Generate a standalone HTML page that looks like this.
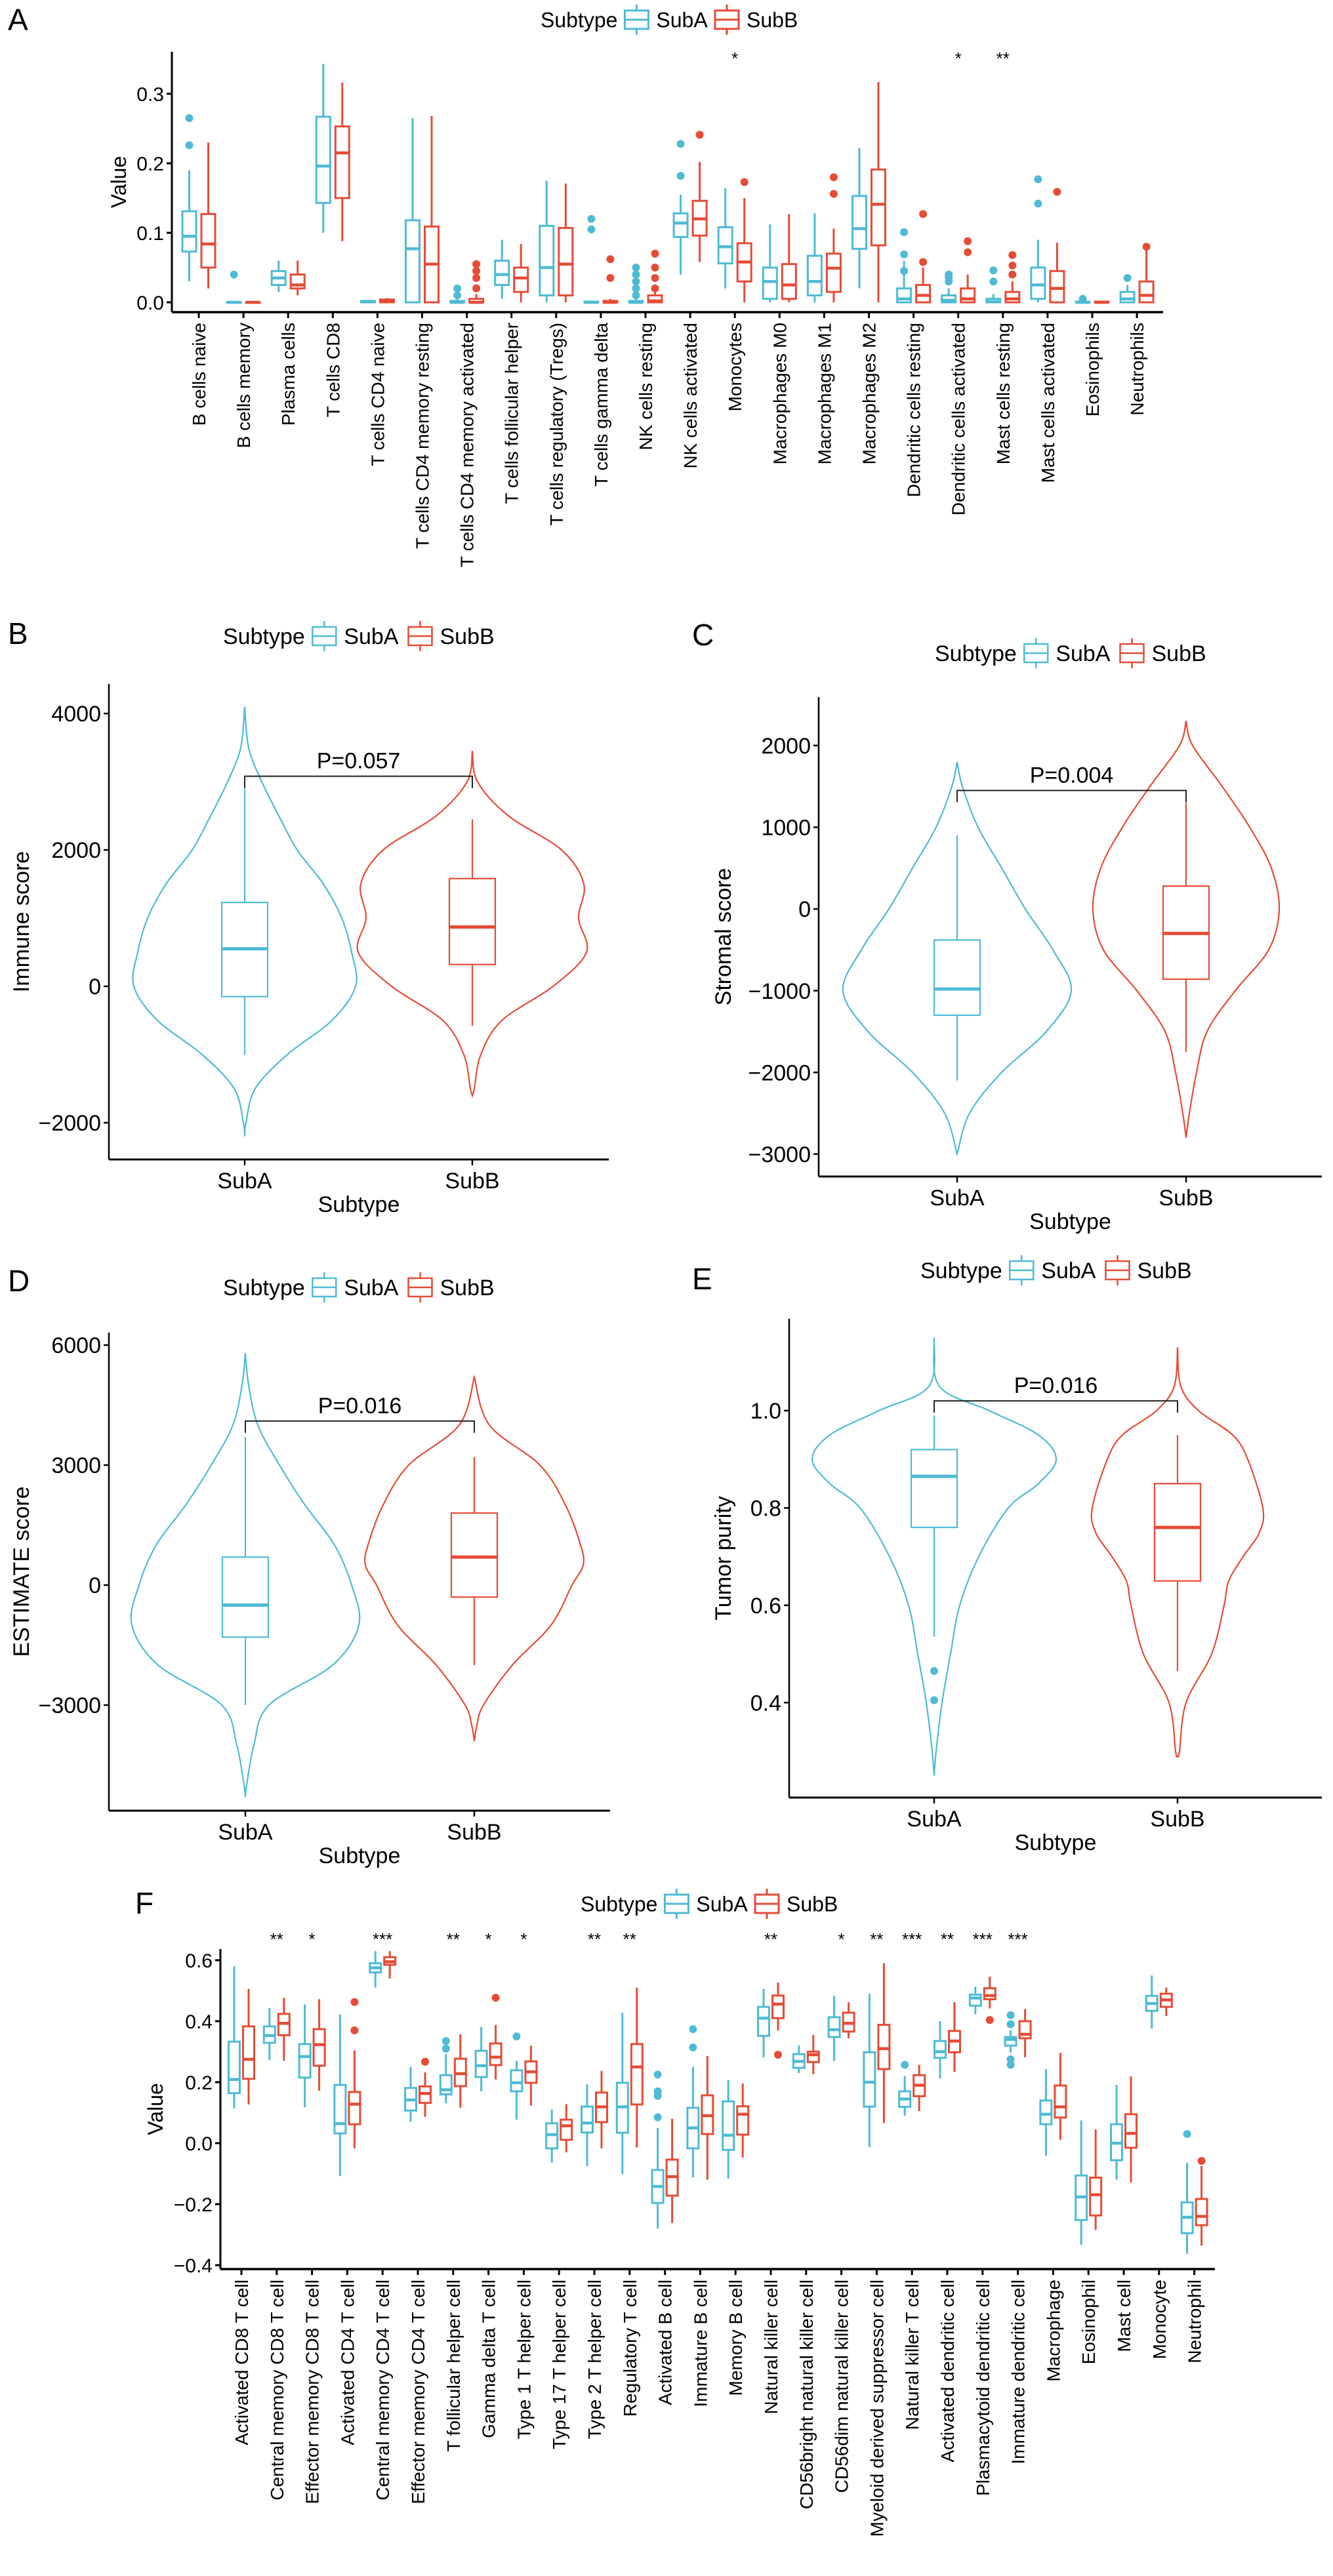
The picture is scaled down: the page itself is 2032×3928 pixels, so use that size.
<!DOCTYPE html>
<html><head><meta charset="utf-8"><style>
html,body{margin:0;padding:0;background:#fff;}
svg{display:block;font-family:"Liberation Sans",Arial,sans-serif;}
</style></head><body>
<svg id="fig" width="2032" height="3928" viewBox="0 0 2032 3928" xmlns="http://www.w3.org/2000/svg"></svg>
<script>
// ---------- Panel A data ----------
const aCategories = ["B cells naive","B cells memory","Plasma cells","T cells CD8","T cells CD4 naive","T cells CD4 memory resting","T cells CD4 memory activated","T cells follicular helper","T cells regulatory (Tregs)","T cells gamma delta","NK cells resting","NK cells activated","Monocytes","Macrophages M0","Macrophages M1","Macrophages M2","Dendritic cells resting","Dendritic cells activated","Mast cells resting","Mast cells activated","Eosinophils","Neutrophils"];
const aSubA = [[0.03,0.073,0.095,0.131,0.19],[0,0,0,0,0],[0.015,0.025,0.035,0.045,0.06],[0.1,0.143,0.196,0.267,0.343],[0,0,0.001,0.002,0.003],[0,0,0.077,0.118,0.265],[0,0,0,0.002,0.005],[0.005,0.025,0.04,0.06,0.09],[0,0.01,0.05,0.11,0.175],[0,0,0,0.001,0.002],[0,0,0,0.002,0.005],[0.04,0.094,0.114,0.128,0.155],[0.02,0.056,0.08,0.108,0.164],[0,0.005,0.03,0.05,0.112],[0,0.01,0.03,0.067,0.128],[0.02,0.077,0.106,0.153,0.222],[0,0,0.005,0.02,0.06],[0,0,0.003,0.01,0.02],[0,0,0.001,0.005,0.012],[0,0.005,0.025,0.05,0.09],[0,0,0,0.001,0.002],[0,0,0.005,0.015,0.025]];
const aSubB = [[0.02,0.05,0.084,0.127,0.23],[0,0,0,0,0],[0.01,0.02,0.025,0.04,0.06],[0.088,0.15,0.215,0.253,0.316],[0,0,0.002,0.004,0.006],[0,0,0.055,0.109,0.268],[0,0,0,0.005,0.012],[0,0.015,0.035,0.05,0.084],[0,0.01,0.055,0.107,0.171],[0,0,0,0.002,0.005],[0,0,0.002,0.01,0.015],[0.058,0.096,0.12,0.146,0.202],[0,0.03,0.058,0.085,0.15],[0,0.005,0.025,0.055,0.127],[0,0.015,0.049,0.07,0.106],[0,0.082,0.141,0.191,0.317],[0,0,0.01,0.025,0.05],[0,0,0.005,0.02,0.04],[0,0,0.005,0.015,0.03],[0,0,0.02,0.045,0.086],[0,0,0,0.001,0.002],[0,0,0.01,0.03,0.075]];
const aOutA = [[0.226,0.265],[0.04],[],[],[],[],[0.01,0.02],[],[],[0.105,0.12],[0.01,0.02,0.03,0.04,0.05],[0.182,0.228],[],[],[],[],[0.045,0.069,0.101],[0.03,0.035,0.04],[0.03,0.046],[0.142,0.177],[0.005],[0.035]];
const aOutB = [[],[],[],[],[],[],[0.02,0.035,0.045,0.055],[],[],[0.035,0.062],[0.02,0.035,0.05,0.07],[0.241],[0.173],[],[0.156,0.18],[],[0.058,0.127],[0.072,0.088],[0.04,0.053,0.068],[0.159],[],[0.08]];
const aStars = ["","","","","","","","","","","","","*","","","","","*","**","","",""];
const aTicks = [0,0.1,0.2,0.3];
const aTickLabels = ["0.0","0.1","0.2","0.3"];

// ---------- Panel F data ----------
const fCategories = ["Activated CD8 T cell","Central memory CD8 T cell","Effector memory CD8 T cell","Activated CD4 T cell","Central memory CD4 T cell","Effector memory CD4 T cell","T follicular helper cell","Gamma delta T cell","Type 1 T helper cell","Type 17 T helper cell","Type 2 T helper cell","Regulatory T cell","Activated B cell","Immature B cell","Memory B cell","Natural killer cell","CD56bright natural killer cell","CD56dim natural killer cell","Myeloid derived suppressor cell","Natural killer T cell","Activated dendritic cell","Plasmacytoid dendritic cell","Immature dendritic cell","Macrophage","Eosinophil","Mast cell","Monocyte","Neutrophil"];
const fSubA = [[0.114,0.164,0.209,0.333,0.58],[0.272,0.329,0.353,0.383,0.443],[0.118,0.215,0.284,0.325,0.455],[-0.108,0.032,0.064,0.191,0.422],[0.51,0.56,0.575,0.59,0.63],[0.07,0.107,0.142,0.181,0.25],[0.131,0.16,0.175,0.223,0.292],[0.17,0.217,0.254,0.303,0.381],[0.077,0.17,0.198,0.239,0.27],[-0.064,-0.017,0.028,0.065,0.11],[-0.075,0.035,0.066,0.12,0.193],[-0.102,0.034,0.119,0.198,0.427],[-0.28,-0.196,-0.142,-0.088,0.05],[-0.113,-0.017,0.05,0.116,0.25],[-0.116,-0.022,0.026,0.137,0.207],[0.281,0.352,0.41,0.447,0.506],[0.23,0.247,0.268,0.292,0.32],[0.27,0.348,0.372,0.413,0.483],[-0.013,0.12,0.2,0.298,0.49],[0.09,0.119,0.145,0.17,0.22],[0.212,0.28,0.3,0.335,0.4],[0.423,0.451,0.476,0.487,0.513],[0.297,0.32,0.34,0.348,0.37],[-0.041,0.062,0.095,0.14,0.243],[-0.334,-0.252,-0.176,-0.106,0.075],[-0.12,-0.056,0.0,0.062,0.191],[0.376,0.434,0.458,0.483,0.55],[-0.363,-0.295,-0.243,-0.194,-0.064]];
const fSubB = [[0.127,0.211,0.275,0.383,0.506],[0.27,0.354,0.393,0.424,0.477],[0.172,0.254,0.323,0.374,0.472],[-0.017,0.062,0.128,0.168,0.304],[0.54,0.585,0.595,0.61,0.63],[0.086,0.132,0.163,0.186,0.232],[0.116,0.187,0.228,0.277,0.357],[0.209,0.256,0.282,0.327,0.388],[0.123,0.198,0.234,0.268,0.32],[-0.03,0.011,0.057,0.077,0.128],[-0.017,0.069,0.119,0.166,0.237],[-0.014,0.127,0.25,0.325,0.51],[-0.262,-0.172,-0.11,-0.054,0.08],[-0.12,0.03,0.09,0.157,0.286],[-0.047,0.028,0.095,0.121,0.196],[0.37,0.41,0.456,0.484,0.527],[0.226,0.266,0.29,0.3,0.355],[0.344,0.366,0.393,0.428,0.462],[0.066,0.243,0.31,0.388,0.59],[0.105,0.154,0.19,0.223,0.257],[0.234,0.298,0.335,0.368,0.462],[0.442,0.472,0.484,0.508,0.546],[0.282,0.344,0.357,0.4,0.44],[0.011,0.084,0.119,0.189,0.296],[-0.284,-0.237,-0.169,-0.113,0.045],[-0.129,-0.015,0.032,0.095,0.219],[0.417,0.447,0.47,0.49,0.51],[-0.336,-0.269,-0.24,-0.183,-0.075]];
const fOutA = [[],[],[],[],[],[],[0.31,0.335],[],[0.35],[],[],[],[0.085,0.155,0.17,0.225],[0.314,0.374],[],[],[],[],[],[0.257],[],[],[0.257,0.275,0.39,0.42],[],[],[],[],[0.03]];
const fOutB = [[],[],[],[0.37,0.463],[],[0.267],[],[0.477],[],[],[],[],[],[],[],[0.29],[],[],[],[],[],[0.404],[],[],[],[],[],[-0.058]];
const fStars = ["","**","*","","***","","**","*","*","","**","**","","","","**","","*","**","***","**","***","***","","","","",""];
const fTicks = [-0.4,-0.2,0,0.2,0.4,0.6];
const fTickLabels = ["\u22120.4","\u22120.2","0.0","0.2","0.4","0.6"];

// ---------- Panel B (Immune score) ----------
const bLevelsA = [4100,3500,3000,2500,2000,1500,1000,500,0,-500,-1000,-1500,-2000,-2200];
const bDensA = [0,6,26,52,80,120,148,163,169,133,65,16,2,0];
const bLevelsB = [3450,3000,2500,2000,1500,1000,500,0,-500,-1000,-1500,-1600];
const bDensB = [0,8,55,136,170,162,174,123,45,13,3,0];
const bBoxA = [-1000,-150,550,1230,2900];
const bBoxB = [-580,320,870,1580,2450];
const bTicks = [-2000,0,2000,4000];
const bTickLabels = ["\u22122000","0","2000","4000"];
// ---------- Panel C (Stromal score) ----------
const cLevelsA = [1800,1500,1000,500,0,-500,-1000,-1500,-2000,-2500,-3000];
const cDensA = [0,8,32,68,104,146,174,136,68,19,0];
const cLevelsB = [2300,2000,1500,1000,500,0,-500,-1000,-1500,-2000,-2500,-2800];
const cDensB = [0,10,55,97,130,142,126,75,32,16,5,0];
const cBoxA = [-2100,-1300,-980,-380,900];
const cBoxB = [-1750,-860,-300,280,1300];
const cTicks = [-3000,-2000,-1000,0,1000,2000];
const cTickLabels = ["\u22123000","\u22122000","\u22121000","0","1000","2000"];
// ---------- Panel D (ESTIMATE score) ----------
const dLevelsA = [5800,5000,4000,3000,2000,1000,0,-1000,-2000,-3000,-4000,-5000,-5300];
const dDensA = [0,5,19,52,91,136,162,173,133,36,13,2,0];
const dLevelsB = [5200,4000,3000,2000,1000,500,0,-1000,-2000,-3000,-3500,-3900];
const dDensB = [0,23,100,139,162,166,149,117,58,14,4,0];
const dBoxA = [-3000,-1300,-500,700,3700];
const dBoxB = [-2000,-300,700,1800,3200];
const dTicks = [-3000,0,3000,6000];
const dTickLabels = ["\u22123000","0","3000","6000"];
// ---------- Panel E (Tumor purity) ----------
const eLevelsA = [1.15,1.05,1.0,0.95,0.9,0.85,0.8,0.7,0.6,0.5,0.4,0.3,0.25];
const eDensA = [0,8,84,159,186,159,113,68,39,25,12,3,0];
const eLevelsB = [1.13,1.05,1.0,0.95,0.9,0.8,0.75,0.7,0.65,0.6,0.5,0.4,0.3,0.29];
const eDensB = [0,5,32,84,107,130,125,100,78,71,52,13,3,0];
const eBoxA = [0.535,0.76,0.865,0.92,0.99];
const eBoxB = [0.465,0.65,0.76,0.85,0.95];
const eOutA = [0.465,0.405];
const eTicks = [0.4,0.6,0.8,1.0];
const eTickLabels = ["0.4","0.6","0.8","1.0"];

const COLA = "#4DBBD5", COLB = "#E64B35";
const NS = "http://www.w3.org/2000/svg";
const svg = document.getElementById("fig");

function mk(tag, attrs, parent){
  const e = document.createElementNS(NS, tag);
  for (const k in attrs) e.setAttribute(k, attrs[k]);
  (parent||svg).appendChild(e);
  return e;
}
function txt(s, x, y, size, anchor, parent, extra){
  const t = mk("text", Object.assign({x:x, y:y, "font-size":size, "text-anchor":anchor||"start", fill:"#000"}, extra||{}), parent);
  t.textContent = s;
  return t;
}
function group(name){
  const g = mk("g", {});
  
  
  return g;
}

function drawBox(g, cx, w, s, yf, col, lw, mlw, outs, r){
  const wl = mk("line", {x1:cx, x2:cx, y1:yf(s[0]), y2:yf(s[4]), stroke:col, "stroke-width":lw}, g);
  
  
  const top = yf(s[3]), bot = yf(s[1]);
  const rc = mk("rect", {x:cx-w/2, y:top, width:w, height:Math.max(bot-top,0.5), fill:"#fff", stroke:col, "stroke-width":lw}, g);
  
  
  const md = mk("line", {x1:cx-w/2, x2:cx+w/2, y1:yf(s[2]), y2:yf(s[2]), stroke:col, "stroke-width":mlw}, g);
  
  
  (outs||[]).forEach(v => {
    const c = mk("circle", {cx:cx, cy:yf(v), r:r, fill:col}, g);
    
    
  });
}

function legend(x, y, fs, lw){
  const g = group("legend");
  txt("Subtype", x, y+fs*0.36, fs, "start", g);
  const kx1 = x + fs*3.95;
  [[COLA,"SubA"],[COLB,"SubB"]].forEach((p, i) => {
    const kx = kx1 + i*fs*4.3;
    const k = mk("g", {}, g);
    
    
    mk("line", {x1:kx+20, x2:kx+20, y1:y-23, y2:y+23, stroke:p[0], "stroke-width":lw}, k);
    mk("rect", {x:kx+2, y:y-14, width:36, height:28, fill:"#fff", stroke:p[0], "stroke-width":lw}, k);
    mk("line", {x1:kx+2, x2:kx+38, y1:y, y2:y, stroke:p[0], "stroke-width":lw}, k);
    const t = txt(p[1], kx+50, y+fs*0.36, fs, "start", g);
    
    
  });
}

function panelLetter(s, x, y){
  const t = txt(s, x, y, 46, "start");
  
  
}

function yAxis(g, x, yTop, yBot, ticks, labels, yf, fs, lw){
  const ax = mk("line", {x1:x, x2:x, y1:yTop, y2:yBot, stroke:"#000", "stroke-width":lw}, g);
  
  
  ticks.forEach((v, i) => {
    const y = yf(v);
    mk("line", {x1:x-8, x2:x, y1:y, y2:y, stroke:"#000", "stroke-width":lw}, g);
    const t = txt(labels[i], x-12, y+fs*0.36, fs, "end", g);
    
    
  });
}

function smoothSide(pts){
  // catmull-rom through pts -> bezier segments (without initial M)
  let d = "";
  for (let i=0;i<pts.length-1;i++){
    const p0 = pts[Math.max(i-1,0)], p1 = pts[i], p2 = pts[i+1], p3 = pts[Math.min(i+2,pts.length-1)];
    const c1 = [p1[0]+(p2[0]-p0[0])/6, p1[1]+(p2[1]-p0[1])/6];
    const c2 = [p2[0]-(p3[0]-p1[0])/6, p2[1]-(p3[1]-p1[1])/6];
    d += ` C${c1[0].toFixed(1)},${c1[1].toFixed(1)} ${c2[0].toFixed(1)},${c2[1].toFixed(1)} ${p2[0].toFixed(1)},${p2[1].toFixed(1)}`;
  }
  return d;
}
function violin(g, cx, levels, dens, yf, col){
  const right = levels.map((v,i)=>[cx+dens[i], yf(v)]);
  const left = levels.map((v,i)=>[cx-dens[i], yf(v)]).reverse();
  const d = `M${right[0][0]},${right[0][1]}` + smoothSide(right) + smoothSide(left) + " Z";
  const p = mk("path", {d:d, fill:"none", stroke:col, "stroke-width":2.2}, g);
  
  
}

function violinPanel(cfg){
  const g = group(cfg.name);
  const yf = v => cfg.y0 - (v - cfg.v0) * cfg.k;
  yAxis(g, cfg.ax, cfg.top, cfg.bot, cfg.ticks, cfg.labels, yf, 34, 2.5);
  const xl = mk("line", {x1:cfg.ax, x2:cfg.right, y1:cfg.bot, y2:cfg.bot, stroke:"#000", "stroke-width":3}, g);
  
  
  [[cfg.xa,"SubA"],[cfg.xb,"SubB"]].forEach(p => {
    mk("line", {x1:p[0], x2:p[0], y1:cfg.bot, y2:cfg.bot+9, stroke:"#000", "stroke-width":2.5}, g);
    const t = txt(p[1], p[0], cfg.bot+44, 34, "middle", g);
    
    
  });
  violin(g, cfg.xa, cfg.la, cfg.da, yf, COLA);
  violin(g, cfg.xb, cfg.lb, cfg.db, yf, COLB);
  drawBox(g, cfg.xa, 70, cfg.ba, yf, COLA, 2.2, 5, cfg.oa||[], 6);
  drawBox(g, cfg.xb, 70, cfg.bb, yf, COLB, 2.2, 5, [], 6);
  const py = yf(cfg.p);
  const br = mk("path", {d:`M${cfg.xa},${py+18} V${py} H${cfg.xb} V${py+18}`, fill:"none", stroke:"#222", "stroke-width":2}, g);
  
  
  const pt = txt(cfg.ptext, (cfg.xa+cfg.xb)/2, py-12, 34, "middle", g);
  
  
  const xt = txt("Subtype", (cfg.ax+cfg.right)/2, cfg.bot+80, 34, "middle", g);
  
  
  const yt = txt(cfg.ytitle, 0, 0, 34, "middle", g, {transform:`translate(${cfg.ytx},${(cfg.top+cfg.bot)/2}) rotate(-90)`});
  
  
}

function boxPanel(cfg){
  const g = group(cfg.name);
  const yf = v => cfg.y0 - v*cfg.k;
  const xf = i => cfg.x0 + i*cfg.step;
  yAxis(g, cfg.ax, cfg.top, cfg.bot, cfg.ticks, cfg.labels, yf, 30, 3);
  const xl = mk("line", {x1:cfg.ax, x2:cfg.right, y1:cfg.bot, y2:cfg.bot, stroke:"#000", "stroke-width":3.5}, g);
  
  
  cfg.cats.forEach((c, i) => {
    const cx = xf(i);
    mk("line", {x1:cx, x2:cx, y1:cfg.bot, y2:cfg.bot+9, stroke:"#000", "stroke-width":3}, g);
    const t = txt(c, 0, 0, 28, "end", g, {transform:`translate(${cx+10},${cfg.bot+16}) rotate(-90)`});
    
    
    drawBox(g, cx-cfg.off, cfg.bw, cfg.A[i], yf, COLA, 3, 4.5, cfg.oA[i], 6);
    drawBox(g, cx+cfg.off, cfg.bw, cfg.B[i], yf, COLB, 3, 4.5, cfg.oB[i], 6);
    if (cfg.stars[i]) {
      const s = txt(cfg.stars[i], cx, cfg.starY, 26, "middle", g);
      
      
    }
  });
  const yt = txt("Value", 0, 0, 32, "middle", g, {transform:`translate(${cfg.ytx},${(cfg.top+cfg.bot)/2}) rotate(-90)`});
  
  
}

// ---------- Panel A ----------
panelLetter("A", 12, 46);
legend(824, 30, 32, 3);
boxPanel({name:"panel-a-boxplot", y0:461, k:1060, x0:303, step:68.1, ax:262, top:79, bot:476, right:1773,
  ticks:aTicks, labels:aTickLabels, cats:aCategories, A:aSubA, B:aSubB, oA:aOutA, oB:aOutB, stars:aStars,
  off:14.5, bw:21, starY:98, ytx:192});

// ---------- Panel B ----------
panelLetter("B", 12, 982);
legend(340, 970, 34, 2.5);
violinPanel({name:"panel-b-immune-violin", y0:1504, v0:0, k:0.104, ax:166, top:1043, bot:1768, right:928,
  xa:373, xb:720, la:bLevelsA, da:bDensA, lb:bLevelsB, db:bDensB, ba:bBoxA, bb:bBoxB,
  ticks:bTicks, labels:bTickLabels, p:3080, ptext:"P=0.057", ytitle:"Immune score", ytx:44});

// ---------- Panel C ----------
panelLetter("C", 1055, 984);
legend(1425, 996, 34, 2.5);
violinPanel({name:"panel-c-stromal-violin", y0:1386, v0:0, k:0.1246, ax:1248, top:1063, bot:1794, right:2015,
  xa:1459, xb:1808, la:cLevelsA, da:cDensA, lb:cLevelsB, db:cDensB, ba:cBoxA, bb:cBoxB,
  ticks:cTicks, labels:cTickLabels, p:1450, ptext:"P=0.004", ytitle:"Stromal score", ytx:1114});

// ---------- Panel D ----------
panelLetter("D", 12, 1969);
legend(340, 1963, 34, 2.5);
violinPanel({name:"panel-d-estimate-violin", y0:2417, v0:0, k:0.061, ax:166, top:2032, bot:2761, right:930,
  xa:374, xb:723, la:dLevelsA, da:dDensA, lb:dLevelsB, db:dDensB, ba:dBoxA, bb:dBoxB,
  ticks:dTicks, labels:dTickLabels, p:4100, ptext:"P=0.016", ytitle:"ESTIMATE score", ytx:44});

// ---------- Panel E ----------
panelLetter("E", 1055, 1966);
legend(1403, 1937, 34, 2.5);
violinPanel({name:"panel-e-purity-violin", y0:2151, v0:1.0, k:742, ax:1203, top:2011, bot:2741, right:2015,
  xa:1424, xb:1795, la:eLevelsA, da:eDensA, lb:eLevelsB, db:eDensB, ba:eBoxA, bb:eBoxB, oa:eOutA,
  ticks:eTicks, labels:eTickLabels, p:1.02, ptext:"P=0.016", ytitle:"Tumor purity", ytx:1114});

// ---------- Panel F ----------
panelLetter("F", 206, 2918);
legend(885, 2903, 32, 3);
boxPanel({name:"panel-f-boxplot", y0:3268, k:465, x0:368, step:53.8, ax:336, top:2972, bot:3460, right:1852,
  ticks:fTicks, labels:fTickLabels, cats:fCategories, A:fSubA, B:fSubB, oA:fOutA, oB:fOutB, stars:fStars,
  off:11, bw:17, starY:2966, ytx:248});
</script>
</body></html>
